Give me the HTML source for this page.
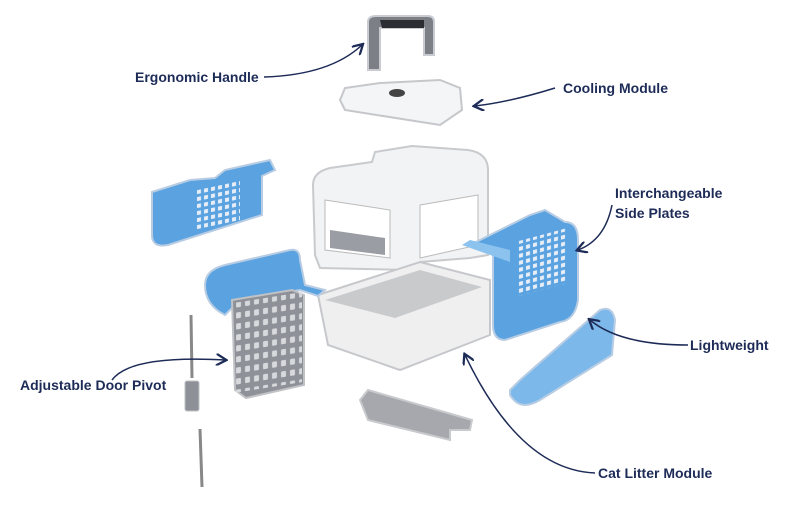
<!DOCTYPE html>
<html><head><meta charset="utf-8"><style>
html,body{margin:0;padding:0;background:#fff;}
svg{display:block}
text{font-family:"Liberation Sans",sans-serif;font-weight:bold;font-size:14px;fill:#1d2b57}
</style></head><body>
<svg width="800" height="527" viewBox="0 0 800 527" xmlns="http://www.w3.org/2000/svg">
<defs>
<marker id="a" markerWidth="8" markerHeight="8" refX="6" refY="4" orient="auto"><path d="M0,0 L7,4 L0,8" fill="none" stroke="#1d2b57" stroke-width="1.5"/></marker>
<pattern id="h" width="7" height="7" patternUnits="userSpaceOnUse"><rect x="1" y="1" width="4" height="4" fill="#e8eef8"/></pattern>
<pattern id="g" width="9" height="11" patternUnits="userSpaceOnUse"><rect x="2" y="2" width="5" height="6" rx="1" fill="#d8d9dd"/></pattern>
</defs>
<path d="M368,70 L368,22 Q368,16 376,16 L428,16 Q434,16 434,22 L434,55 L424,55 L424,28 L380,28 L380,70 Z" fill="#7c7f86" stroke="#c9cbd0" stroke-width="2"/>
<path d="M382,28 L424,28 L424,20 L380,20Z" fill="#2b2d33"/>
<path d="M340,100 L345,88 L380,83 L440,80 L460,88 L462,110 L440,125 L345,110 Z" fill="#f4f5f6" stroke="#c5c7cb" stroke-width="2"/>
<ellipse cx="397" cy="93" rx="8" ry="4" fill="#444"/>
<path d="M313,185 Q313,172 330,168 L372,162 L375,152 L412,146 L468,150 Q488,153 488,170 L488,255 L470,258 L420,262 L410,270 L320,268 L315,255 Z" fill="#f2f3f4" stroke="#c8cacd" stroke-width="2"/>
<path d="M325,200 L390,210 L390,258 L325,250Z" fill="#fff" stroke="#bbb"/>
<path d="M420,205 L478,195 L478,245 L420,258Z" fill="#fff" stroke="#bbb"/>
<path d="M330,230 L385,238 L385,255 L330,248Z" fill="#9a9da3"/>
<path d="M318,295 L420,262 L490,280 L490,335 L400,370 L328,345 Z" fill="#efeff0" stroke="#c6c8cb" stroke-width="2"/>
<path d="M325,300 L420,270 L482,287 L395,318 Z" fill="#c9cacc"/>
<path d="M152,192 L190,180 L215,178 L225,170 L270,160 L275,170 L262,176 L262,215 L168,245 Q152,248 152,235 Z" fill="#5aa2e0" stroke="#b8cde3" stroke-width="2"/>
<rect x="195" y="190" width="45" height="40" fill="url(#h)" transform="skewY(-12) translate(0,42)"/>
<path d="M205,285 Q205,270 225,265 L290,250 Q300,248 300,260 L305,285 L325,290 L318,296 L300,290 L240,300 L225,315 Q205,305 205,285Z" fill="#5aa2e0" stroke="#b8cde3" stroke-width="2"/>
<path d="M470,245 L530,215 L545,210 L565,222 Q578,222 578,240 L578,300 Q575,320 560,322 L505,340 Q493,340 493,325 L493,255 Z" fill="#5aa2e0" stroke="#b8cde3" stroke-width="2"/>
<path d="M462,245 L470,240 L510,250 L510,262 Z" fill="#8cc3ee"/>
<rect x="517" y="240" width="50" height="55" fill="url(#h)" transform="skewY(-15) translate(0,140)"/>
<path d="M510,390 L520,380 L600,310 Q612,305 615,320 L612,355 L540,400 Q520,412 510,395Z" fill="#7db8ea" stroke="#b8cde3" stroke-width="2"/>
<path d="M232,300 L292,290 L304,295 L304,385 L246,398 L235,390Z" fill="#8e9198" stroke="#c0c2c6" stroke-width="2"/>
<rect x="236" y="300" width="66" height="90" fill="url(#g)" transform="skewY(-9) translate(0,40)"/>
<line x1="191" y1="315" x2="192" y2="378" stroke="#888" stroke-width="3"/>
<rect x="185" y="381" width="14" height="30" rx="2" fill="#8d9096" stroke="#c0c2c6"/>
<line x1="200" y1="429" x2="202" y2="487" stroke="#888" stroke-width="3"/>
<path d="M360,400 L368,390 L472,420 L470,430 L450,430 L450,440 L368,420 Z" fill="#a6a8ad" stroke="#c8cacd" stroke-width="2"/>
<path d="M264,77 Q330,75 362,45" fill="none" stroke="#1d2b57" stroke-width="1.5" marker-end="url(#a)"/>
<path d="M555,88 Q510,102 475,106" fill="none" stroke="#1d2b57" stroke-width="1.5" marker-end="url(#a)"/>
<path d="M612,205 Q605,240 578,250" fill="none" stroke="#1d2b57" stroke-width="1.5" marker-end="url(#a)"/>
<path d="M688,345 Q620,345 590,320" fill="none" stroke="#1d2b57" stroke-width="1.5" marker-end="url(#a)"/>
<path d="M112,380 Q130,355 225,360" fill="none" stroke="#1d2b57" stroke-width="1.5" marker-end="url(#a)"/>
<path d="M595,473 Q520,470 465,355" fill="none" stroke="#1d2b57" stroke-width="1.5" marker-end="url(#a)"/>
<text x="135" y="82">Ergonomic Handle</text>
<text x="563" y="93">Cooling Module</text>
<text x="615" y="198">Interchangeable</text>
<text x="615" y="218">Side Plates</text>
<text x="690" y="350">Lightweight</text>
<text x="20" y="390">Adjustable Door Pivot</text>
<text x="598" y="478">Cat Litter Module</text>
</svg>
</body></html>
